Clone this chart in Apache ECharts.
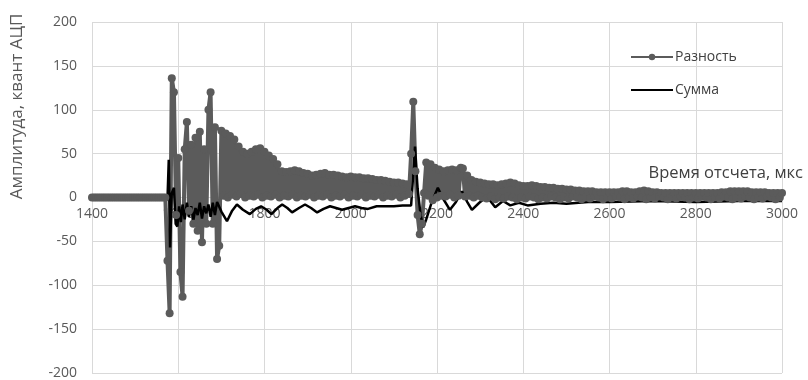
<!DOCTYPE html>
<html>
<head>
<meta charset="utf-8">
<title>Разность и сумма</title>
<script src="https://cdn.jsdelivr.net/npm/echarts@6/dist/echarts.min.js"></script>
<style>
    html, body {
        margin: 0;
        padding: 0;
        background: #fff;
    }
    #chart {
        width: 808px;
        height: 380px;
    }
</style>
</head>
<body>
<div id="chart"></div>
<script>
// Ось времени, мкс
const xTicks = [1400, 1600, 1800, 2000, 2200, 2400, 2600, 2800, 3000];
const yTicks = [-200, -150, -100, -50, 0, 50, 100, 150, 200];

// Разность: отсчеты с шагом 5 мкс начиная с 1400
const diffStart = 1400;
const diffStep = 5;
const diffValues = [
    0, 0, 0, 0, 0, 0, 0, 0, 0, 0,               // 1400
    0, 0, 0, 0, 0, 0, 0, 0, 0, 0,               // 1450
    0, 0, 0, 0, 0, 0, 0, 0, 0, 0,               // 1500
    0, 0, 0, 0, 0, -72, -132, 136, 120, -20,    // 1550
    45, -85, -113, 55, 86, -15, 60, -30, 68, -38, // 1600
    75, -51, 55, -30, 100, 120, -30, 80, -70, -55, // 1650
    76, 2, 73, 0, 70, 3, 66, 1, 58, 4,          // 1700
    52, 0, 50, 2, 52, 1, 55, 3, 56, 0,          // 1750
    52, 2, 48, 1, 44, 3, 38, 0, 30, 2,          // 1800
    29, 1, 30, 3, 31, 0, 30, 2, 28, 1,          // 1850
    27, 3, 25, 0, 26, 2, 27, 1, 28, 3,          // 1900
    26, 0, 26, 2, 25, 1, 24, 3, 23, 0,          // 1950
    24, 2, 23, 1, 23, 3, 22, 0, 22, 2,          // 2000
    21, 1, 20, 3, 20, 0, 19, 2, 18, 1,          // 2050
    17, 3, 17, 0, 16, 2, 15, 4, 50, 109,        // 2100
    30, -20, -42, -30, 5, 40, 2, 38, -3, 34,    // 2150
    0, 32, 2, 30, 1, 31, 3, 32, 0, 31,          // 2200
    2, 34, 33, 1, 25, 2, 20, 0, 18, 2,          // 2250
    17, 0, 16, -1, 15, 1, 15, -2, 14, 0,        // 2300
    15, -1, 16, 1, 17, 0, 16, -2, 14, 0,        // 2350
    13, -1, 13, 1, 14, 0, 13, -2, 12, 0,        // 2400
    12, -1, 11, 1, 11, 0, 10, -2, 10, 0,        // 2450
    9, -1, 9, 1, 8, 0, 8, -2, 7, 0,             // 2500
    7, -1, 7, 1, 6, 0, 6, -2, 6, 0,             // 2550
    6, -1, 6, 1, 6, 0, 7, -2, 7, 0,             // 2600
    6, -1, 6, 1, 7, 0, 8, -2, 7, 0,             // 2650
    6, -1, 6, 1, 5, 0, 5, -2, 5, 0,             // 2700
    5, -1, 5, 1, 5, 0, 5, -2, 5, 0,             // 2750
    5, -1, 5, 1, 5, 0, 5, -2, 5, 0,             // 2800
    5, -1, 6, 1, 6, 0, 7, -2, 7, 0,             // 2850
    7, -1, 7, 1, 7, 0, 6, -2, 6, 0,             // 2900
    6, -1, 6, 1, 5, 0, 5, -2, 5, 0,             // 2950
    5                                           // 3000
];

// Сумма: опорные точки (время, мкс / амплитуда)
const sumTimes = [
    1400, 1575, 1578, 1581, 1585, 1590, 1594, 1598, 1602, 1606,
    1610, 1615, 1620, 1625, 1630, 1635, 1640, 1645, 1650, 1655,
    1660, 1665, 1670, 1675, 1680, 1685, 1690, 1700, 1713, 1725,
    1736, 1750, 1766, 1780, 1792, 1805, 1816, 1830, 1841, 1853,
    1864, 1880, 1894, 1908, 1922, 1937, 1952, 1966, 1980, 1995,
    2010, 2025, 2040, 2060, 2080, 2100, 2120, 2140, 2144, 2149,
    2155, 2162, 2168, 2175, 2188, 2202, 2215, 2230, 2244, 2258,
    2270, 2281, 2298, 2316, 2335, 2353, 2370, 2390, 2410, 2440,
    2470, 2500, 2550, 2600, 2700, 2800, 2900, 3000
];
const sumValues = [
    -2, -2, 43, -57, 5, 11, -30, -33, -10, -28,
    -8, -25, -6, -22, -10, -26, -12, -20, -6, -24,
    -10, -18, -8, -22, -6, -20, -5, -16, -27, -15,
    -8, -14, -19, -13, -10, -14, -19, -12, -8, -12,
    -17, -12, -8, -12, -17, -13, -10, -12, -14, -12,
    -10, -12, -13, -10, -10, -10, -9, -9, 20, 58,
    10, -20, -34, -25, -5, 11, -2, -14, -5, 7,
    -5, -14, -6, 1, -11, -4, -9, -6, -9, -7,
    -6, -7, -5, -5, -4, -5, -4, -4
];

const textColor = '#595959';
const gridColor = '#d9d9d9';
const diffColor = '#5b5b5b';
const fontFamily = '"Open Sans", "DejaVu Sans", sans-serif';

const chart = echarts.init(document.getElementById('chart'), null, {renderer: 'canvas'});

const diffData = diffValues.map((v, i) => [diffStart + i * diffStep, v]);
const sumData = sumValues.map((v, i) => [sumTimes[i], v]);

// высота области построения, чтобы посадить ось X на ноль
const gridTop = 22;
const gridBottom = 7;
const plotHeight = 380 - gridTop - gridBottom;

const option = {
    animation: false,
    backgroundColor: '#fff',
    textStyle: {
        fontFamily: fontFamily
    },
    grid: {
        left: 92,
        right: 26,
        top: gridTop,
        bottom: gridBottom,
        containLabel: false,
        outerBoundsMode: 'none'
    },
    legend: {
        orient: 'vertical',
        left: 625,
        top: 45,
        itemWidth: 42,
        itemHeight: 8,
        itemGap: 19,
        textStyle: {
            color: '#404040',
            fontSize: 14,
            fontFamily: fontFamily,
            padding: [0, 0, 0, -3]
        },
        data: [
            {name: 'Разность'},
            {name: 'Сумма', itemStyle: {opacity: 0}}
        ]
    },
    xAxis: {
        type: 'value',
        min: xTicks[0],
        max: xTicks[xTicks.length - 1],
        interval: 200,
        offset: -plotHeight / 2,
        name: 'Время отсчета, мкс',
        nameLocation: 'end',
        nameGap: 21,
        nameTextStyle: {
            color: '#404040',
            fontSize: 16.5,
            align: 'right',
            verticalAlign: 'bottom',
            padding: [0, 0, 16, 0]
        },
        axisLine: {
            show: true,
            onZero: false,
            lineStyle: {color: gridColor}
        },
        axisTick: {show: false},
        axisLabel: {
            color: textColor,
            fontSize: 14,
            margin: 10,
            formatter: v => String(v)
        },
        splitLine: {
            show: true,
            lineStyle: {color: gridColor}
        }
    },
    yAxis: {
        type: 'value',
        min: yTicks[0],
        max: yTicks[yTicks.length - 1],
        interval: 50,
        name: 'Амплитуда, квант АЦП',
        nameLocation: 'middle',
        nameRotate: 90,
        nameGap: 66,
        nameTextStyle: {
            color: textColor,
            fontSize: 17,
            padding: [0, 0, 0, 182]
        },
        axisLine: {show: false},
        axisTick: {show: false},
        axisLabel: {
            color: textColor,
            fontSize: 14,
            margin: 15
        },
        splitLine: {
            show: true,
            lineStyle: {color: gridColor}
        }
    },
    series: [
        {
            name: 'Разность',
            type: 'line',
            data: diffData,
            symbol: 'circle',
            symbolSize: 8,
            showAllSymbol: true,
            color: diffColor,
            itemStyle: {color: diffColor, borderWidth: 0},
            lineStyle: {color: diffColor, width: 4}
        },
        {
            name: 'Сумма',
            type: 'line',
            data: sumData,
            symbol: 'none',
            color: '#000',
            lineStyle: {color: '#000', width: 2.5}
        }
    ]
};

chart.setOption(option);
</script>
</body>
</html>
